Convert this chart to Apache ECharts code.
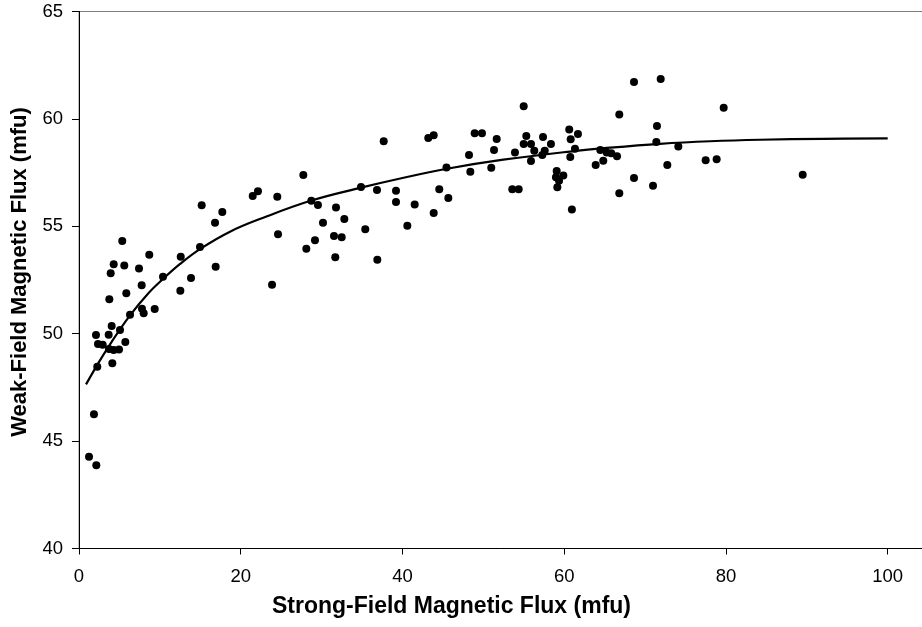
<!DOCTYPE html>
<html>
<head>
<meta charset="utf-8">
<script src="https://cdn.jsdelivr.net/npm/echarts@6/dist/echarts.min.js"></script>
<style>html,body{margin:0;padding:0;background:#fff;}#c{width:922px;height:627px;}</style>
</head>
<body>
<div id="c"></div>
<script>
// Scatter observations (strong-field flux, weak-field flux)
const strongFlux = [1.24,2.14,1.85,2.26,2.10,2.35,2.93,3.67,3.71,4.29,4.95,4.04,5.07,4.12,5.73,3.75,3.92,4.29,5.60,5.35,5.85,7.42,7.75,6.31,7.79,8.00,8.69,9.36,10.39,12.53,12.58,13.85,14.96,15.17,16.82,16.90,17.72,21.48,22.13,23.87,24.52,24.61,27.74,28.11,28.73,29.55,29.18,30.17,31.53,31.69,31.78,32.48,32.81,34.87,35.40,36.85,36.89,37.68,39.20,39.20,40.60,41.51,43.19,43.86,43.86,44.55,45.44,45.67,48.23,48.39,48.93,49.83,50.98,51.32,51.65,53.58,54.37,53.91,54.99,54.99,55.31,55.89,55.89,56.30,57.29,57.38,57.59,58.36,59.07,58.98,59.89,59.36,59.15,60.62,60.80,61.70,61.33,60.75,60.95,63.89,64.46,64.83,65.25,65.82,66.53,66.81,66.81,68.63,68.63,70.98,71.39,71.47,71.93,72.75,74.11,77.49,78.85,79.72,89.49];
const weakFlux = [44.27,43.87,46.25,48.46,49.94,49.52,49.49,49.95,49.29,49.24,49.27,50.36,50.17,48.62,49.61,51.60,52.81,53.23,53.18,54.32,51.88,53.04,52.25,50.88,51.16,50.95,53.68,51.15,52.65,52.00,53.58,52.59,54.04,55.98,55.17,53.12,55.67,56.41,56.63,52.28,56.38,54.63,57.39,53.96,56.19,55.99,54.35,55.17,54.55,53.56,55.88,54.49,55.34,56.83,54.86,56.69,53.44,58.96,56.66,56.13,55.03,56.01,59.11,59.24,55.62,56.72,57.74,56.32,58.32,57.54,59.33,59.33,57.73,58.55,59.06,56.72,56.72,58.43,60.59,58.83,59.20,58.83,58.04,58.52,58.32,59.16,58.52,58.83,57.57,57.28,57.37,57.12,56.82,59.51,59.05,59.30,58.61,58.23,55.78,57.85,58.55,58.05,58.43,58.40,58.26,60.20,56.54,61.72,57.25,56.89,58.92,59.67,61.86,57.85,58.72,58.07,58.12,60.52,57.40];

// Fitted curve
const curveX = [0.87,2.5,4.0,6.31,8.5,10.39,12.5,15.0,18.67,22.79,28.73,34.87,40.0,45.5,52.47,60.71,65.66,71.84,78.03,84.21,92.0,100];
const curveY = [47.64,48.70,49.60,50.85,51.85,52.55,53.25,53.95,54.75,55.40,56.20,56.80,57.25,57.68,58.10,58.48,58.66,58.84,58.96,59.03,59.07,59.09];

// Axis ticks
const xTicks = [0,20,40,60,80,100];
const yMin = 40, yMax = 65, yStep = 5;

const scatterData = strongFlux.map((x,i)=>[x, weakFlux[i]]);
const curveData = curveX.map((x,i)=>[x, curveY[i]]);

const chart = echarts.init(document.getElementById('c'), null, {renderer:'canvas'});
const font = 'Liberation Sans, Arial, sans-serif';
chart.setOption({
  animation:false,
  backgroundColor:'#ffffff',
  grid:{left:79, right:-2, top:11.5, bottom:78.5, show:true, borderColor:'#808080', borderWidth:1, outerBoundsMode:'none'},
  xAxis:{
    type:'value', min:0, max:104.49, interval:20,
    name:'Strong-Field Magnetic Flux (mfu)', nameLocation:'middle', nameGap:47,
    nameTextStyle:{fontFamily:font, fontWeight:'bold', fontSize:23, color:'#000', padding:[0,100,0,0]},
    axisLine:{show:true, onZero:false, lineStyle:{color:'#000', width:1}},
    axisTick:{show:true, length:6, inside:false, customValues:xTicks, lineStyle:{color:'#000'}},
    axisLabel:{customValues:xTicks, fontFamily:font, fontSize:18.5, color:'#000', margin:19},
    splitLine:{show:false}
  },
  yAxis:{
    type:'value', min:yMin, max:yMax, interval:yStep,
    name:'Weak-Field Magnetic Flux (mfu)', nameLocation:'middle', nameGap:48,
    nameTextStyle:{fontFamily:font, fontWeight:'bold', fontSize:22, color:'#000', padding:[0,0,0,16]},
    axisLine:{show:true, onZero:false, lineStyle:{color:'#000', width:1}},
    axisTick:{show:true, length:7, inside:false, lineStyle:{color:'#000'}},
    axisLabel:{fontFamily:font, fontSize:18.5, color:'#000', margin:16},
    splitLine:{show:false}
  },
  series:[
    {type:'scatter', data:scatterData, symbol:'circle', symbolSize:8, itemStyle:{color:'#000', opacity:1}, z:3},
    {type:'line', data:curveData, smooth:0.4, showSymbol:false, symbol:'none', lineStyle:{color:'#000', width:2.2}, z:4}
  ]
});
</script>
</body>
</html>
